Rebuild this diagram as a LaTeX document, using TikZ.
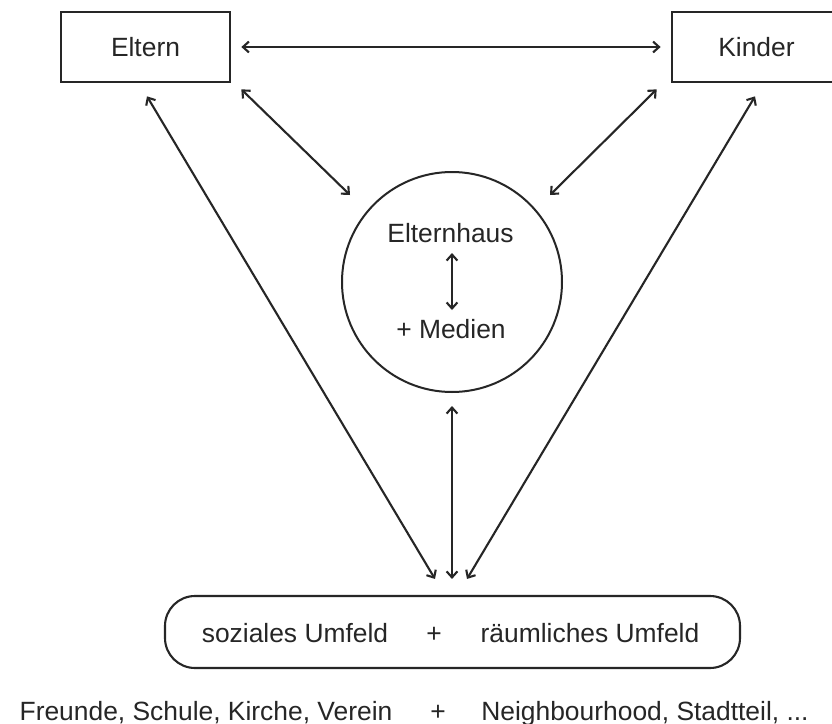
\documentclass[tikz,border=0pt]{standalone}
\usepackage{fontspec}
\setmainfont{Liberation Sans}
\usetikzlibrary{arrows.meta,calc}
\begin{document}
\begin{tikzpicture}[x=0.5pt,y=-0.5pt,
  every node/.style={font=\fontsize{13.2pt}{16pt}\selectfont, inner sep=0pt, text=black!85},
  topbox/.style={draw=black!85, line width=1.35pt, minimum width=84.5pt, minimum height=35pt},
  arr/.style={draw=black!85, line width=1.05pt, {Straight Barb[length=3pt,width=5.4pt]}-{Straight Barb[length=3pt,width=5.4pt]}},
  lbl/.style={anchor=base}]
\clip (0,0) rectangle (832,724);
\fill[white] (0,0) rectangle (832,724);
% nodes
\node[topbox] (eltern) at (145.5,47) {Eltern};
\node[topbox] (kinder) at (756.5,47) {Kinder};
\node[draw=black!85, line width=1pt, circle, minimum size=110pt] (haus) at (452,282) {};
\node[lbl] (eh) at (450.5,242) {Elternhaus};
\node[lbl] (med) at (451,338) {+ Medien};
\node[draw=black!85, line width=1.05pt, rounded corners=15pt, minimum width=287.5pt, minimum height=36pt] (umfeld) at (452.5,632) {};
\node[lbl] (sozial) at (295,642) {soziales Umfeld};
\node[lbl] (plus1) at (434,642) {+};
\node[lbl] (raum) at (590,642) {räumliches Umfeld};
\node[lbl] (freunde) at (206,720) {Freunde, Schule, Kirche, Verein};
\node[lbl] (plus2) at (438,720) {+};
\node[lbl] (neigh) at (645,720) {Neighbourhood, Stadtteil, ...};
% connectors
\draw[arr] ($(eltern.east)+(10,0)$) -- ($(kinder.west)+(-10,0)$);
\draw[arr] ($(eltern.south)+(1.5,13)$) -- ($(umfeld.north)+(-17.5,-16)$);
\draw[arr] ($(kinder.south)+(-1.5,13)$) -- ($(umfeld.north)+(14.5,-16)$);
\draw[arr] ($(eltern.south east)+(10,6)$) -- ($(haus.center)+(-102,-87)$);
\draw[arr] ($(kinder.south west)+(-14,6)$) -- ($(haus.center)+(98,-87)$);
\draw[arr] ($(haus.south)+(0,13)$) -- ($(umfeld.north)+(-0.5,-16)$);
\draw[arr] ($(eh.base)+(1.5,11)$) -- ($(med.base)+(1,-28)$);
\end{tikzpicture}
\end{document}
